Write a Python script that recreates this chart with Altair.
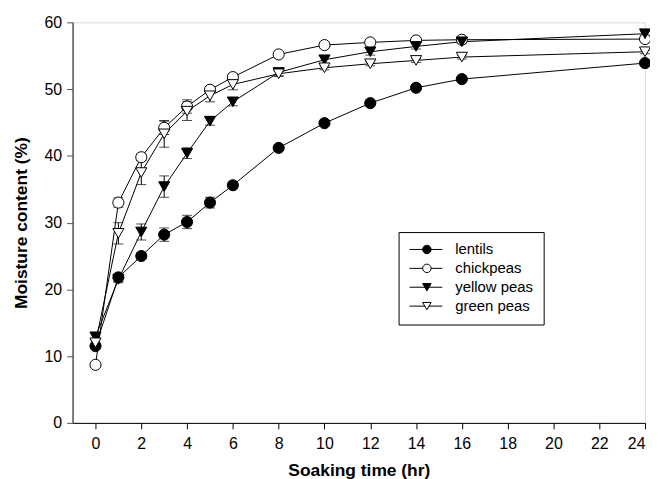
import altair as alt
import pandas as pd

times = [0, 1, 2, 3, 4, 5, 6, 8, 10, 12, 14, 16, 24]
series_names = ["lentils", "chickpeas", "yellow peas", "green peas"]

lentils = [11.5, 21.8, 25.0, 28.2, 30.1, 33.0, 35.6, 41.2, 44.9, 47.9, 50.2, 51.5, 53.9]
lentils_err = [0.3, 0.6, 0.5, 1.0, 1.0, 0.8, 0.5, 0.3, 0.3, 0.3, 0.3, 0.3, 0.3]
chickpeas = [8.7, 33.0, 39.8, 44.2, 47.4, 49.9, 51.8, 55.2, 56.6, 57.0, 57.3, 57.4, 57.5]
chickpeas_err = [0.3, 0.7, 0.5, 1.0, 1.0, 0.5, 0.5, 0.3, 0.3, 0.3, 0.3, 0.3, 0.3]
yellow_peas = [12.9, 21.5, 28.6, 35.4, 40.4, 45.2, 48.1, 52.5, 54.4, 55.6, 56.4, 57.1, 58.3]
yellow_peas_err = [0.3, 0.5, 1.2, 1.6, 0.8, 0.6, 0.6, 0.5, 0.6, 0.5, 0.4, 0.3, 0.3]
green_peas = [12.0, 28.4, 37.5, 43.3, 46.7, 49.0, 50.7, 52.3, 53.2, 53.8, 54.3, 54.8, 55.6]
green_peas_err = [0.3, 1.6, 1.8, 2.0, 1.4, 0.9, 0.8, 0.4, 0.3, 0.3, 0.3, 0.3, 0.3]

shapes = ["circle", "circle", "triangle-down", "triangle-down"]
fills = ["black", "white", "black", "white"]

rows = []
for name, vals, errs in [
    ("lentils", lentils, lentils_err),
    ("chickpeas", chickpeas, chickpeas_err),
    ("yellow peas", yellow_peas, yellow_peas_err),
    ("green peas", green_peas, green_peas_err),
]:
    for t, v, e in zip(times, vals, errs):
        rows.append({"time": t, "series": name, "series_l": name, "value": v,
                     "lo": v - e, "hi": v + e})
df = pd.DataFrame(rows)

FONT = "Liberation Sans"

x_enc = alt.X(
    "time:Q",
    scale=alt.Scale(domain=[-1, 24], nice=False, zero=False),
    axis=alt.Axis(values=list(range(0, 25, 2)), title="Soaking time (hr)",
                  grid=False, tickSize=6, labelPadding=7, titlePadding=10,
                  labelFont=FONT, labelFontSize=16, labelColor="black",
                  titleFont=FONT, titleFontSize=17.5, titleFontWeight="bold",
                  titleColor="black", domainColor="black", tickColor="black"),
)
y_enc = alt.Y(
    "value:Q",
    scale=alt.Scale(domain=[0, 60], nice=False),
    axis=alt.Axis(values=list(range(0, 61, 10)), title="Moisture content (%)",
                  grid=False, tickSize=6, labelPadding=5, titlePadding=14,
                  labelFont=FONT, labelFontSize=16, labelColor="black",
                  titleFont=FONT, titleFontSize=17.5, titleFontWeight="bold",
                  titleColor="black", domainColor="#555555", domainWidth=1.5,
                  tickColor="#555555"),
)

base = alt.Chart(df)

lines = base.mark_line(strokeWidth=1).encode(
    x=x_enc, y=y_enc,
    color=alt.Color(
        "series_l:N", sort=series_names,
        scale=alt.Scale(range=["black"] * 4),
        legend=alt.Legend(
            title=None, orient="none", legendX=328, legendY=211,
            symbolType="M-3,0H3", symbolSize=121, symbolStrokeWidth=1,
            symbolStrokeColor="black", symbolOffset=10,
            strokeColor="black", fillColor="white",
            padding=10, labelFont=FONT, labelFontSize=15, labelColor="black",
            labelOffset=22, rowPadding=3, labelLimit=300, zindex=0,
        ),
    ),
)

err_rule = base.mark_rule(color="black", strokeWidth=1).encode(
    x="time:Q", y="lo:Q", y2="hi:Q")
err_lo = base.mark_tick(color="black", orient="horizontal", size=10,
                        thickness=1).encode(x="time:Q", y="lo:Q")
err_hi = base.mark_tick(color="black", orient="horizontal", size=10,
                        thickness=1).encode(x="time:Q", y="hi:Q")

pt_legend = alt.Legend(
    title=None, orient="none", legendX=339, legendY=211,
    symbolSize=72, symbolStrokeWidth=1,
    padding=10, labelFont=FONT, labelFontSize=15, labelExpr="''",
    labelOffset=10, rowPadding=3, labelLimit=300, zindex=1,
)

points = base.mark_point(size=125, strokeWidth=1, stroke="black",
                         opacity=1).encode(
    x="time:Q", y="value:Q",
    shape=alt.Shape("series:N", sort=series_names,
                    scale=alt.Scale(domain=series_names, range=shapes),
                    legend=pt_legend),
    fill=alt.Fill("series:N", sort=series_names,
                  scale=alt.Scale(domain=series_names, range=fills),
                  legend=pt_legend),
)

chart = alt.layer(lines, err_rule, err_lo, err_hi, points).properties(
    width=576, height=403,
    autosize=alt.AutoSizeParams(type="none"),
    padding={"left": 65, "top": 13, "right": 5, "bottom": 55},
).configure_view(stroke="black", strokeWidth=1).configure(background="white")

chart.save("out.html", embed_options={"renderer": "svg", "actions": False})
